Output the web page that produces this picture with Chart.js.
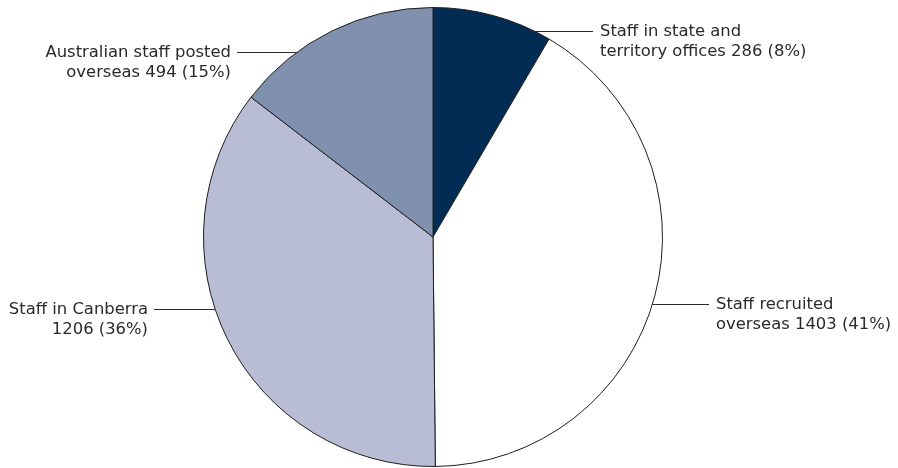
<!DOCTYPE html>
<html>
<head>
<meta charset="utf-8">
<script src="https://cdn.jsdelivr.net/npm/chart.js@4/dist/chart.umd.min.js"></script>
<style>
html,body{margin:0;padding:0;background:#fff;}
#wrap{width:898px;height:468px;}
</style>
</head>
<body>
<div id="wrap"><canvas id="c" width="898" height="468"></canvas></div>
<script>
const categories = [
  ["Staff in state and", "territory offices 286 (8%)"],
  ["Staff recruited", "overseas 1403 (41%)"],
  ["Staff in Canberra", "1206 (36%)"],
  ["Australian staff posted", "overseas 494 (15%)"]
];
const values = [286, 1403, 1206, 494];
const colors = ["#032c55", "#ffffff", "#b8bdd5", "#8091b0"];

// label layout: position along slice (0..1), side, x where leader ends
const labelLayout = [
  {frac: 0.855, side: "right", endX: 593},
  {frac: 0.514, side: "right", endX: 709},
  {frac: 0.565, side: "left", endX: 154},
  {frac: 0.305, side: "left", endX: 237}
];

const leaderPlugin = {
  id: "leaders",
  afterDatasetsDraw(chart) {
    const ctx = chart.ctx;
    const meta = chart.getDatasetMeta(0);
    ctx.save();
    ctx.font = "16.4px 'DejaVu Sans', sans-serif";
    ctx.fillStyle = "#2a2a2a";
    ctx.strokeStyle = "#2a2a2a";
    ctx.lineWidth = 1;
    meta.data.forEach((arc, i) => {
      const p = arc.getProps(["x","y","startAngle","endAngle","outerRadius"], true);
      const L = labelLayout[i];
      const a = p.startAngle + L.frac * (p.endAngle - p.startAngle);
      const px = p.x + p.outerRadius * Math.cos(a);
      const py = Math.round(p.y + p.outerRadius * Math.sin(a)) + 0.5;
      ctx.beginPath();
      ctx.moveTo(px, py);
      ctx.lineTo(L.endX, py);
      ctx.stroke();
      const lines = categories[i];
      ctx.textBaseline = "middle";
      if (L.side === "right") {
        ctx.textAlign = "left";
        lines.forEach((t, k) => ctx.fillText(t, L.endX + 7, py + k * 20));
      } else {
        ctx.textAlign = "right";
        lines.forEach((t, k) => ctx.fillText(t, L.endX - 6, py + k * 20));
      }
    });
    ctx.restore();
  }
};

new Chart(document.getElementById("c"), {
  type: "pie",
  data: {
    labels: categories.map(c => c.join(" ")),
    datasets: [{
      data: values,
      backgroundColor: colors,
      borderColor: "#1e1e1e",
      borderWidth: 1
    }]
  },
  options: {
    responsive: false,
    animation: false,
    layout: {padding: {top: 7, bottom: 1, left: 0, right: 32}},
    plugins: {legend: {display: false}, tooltip: {enabled: false}}
  },
  plugins: [leaderPlugin]
});
</script>
</body>
</html>
